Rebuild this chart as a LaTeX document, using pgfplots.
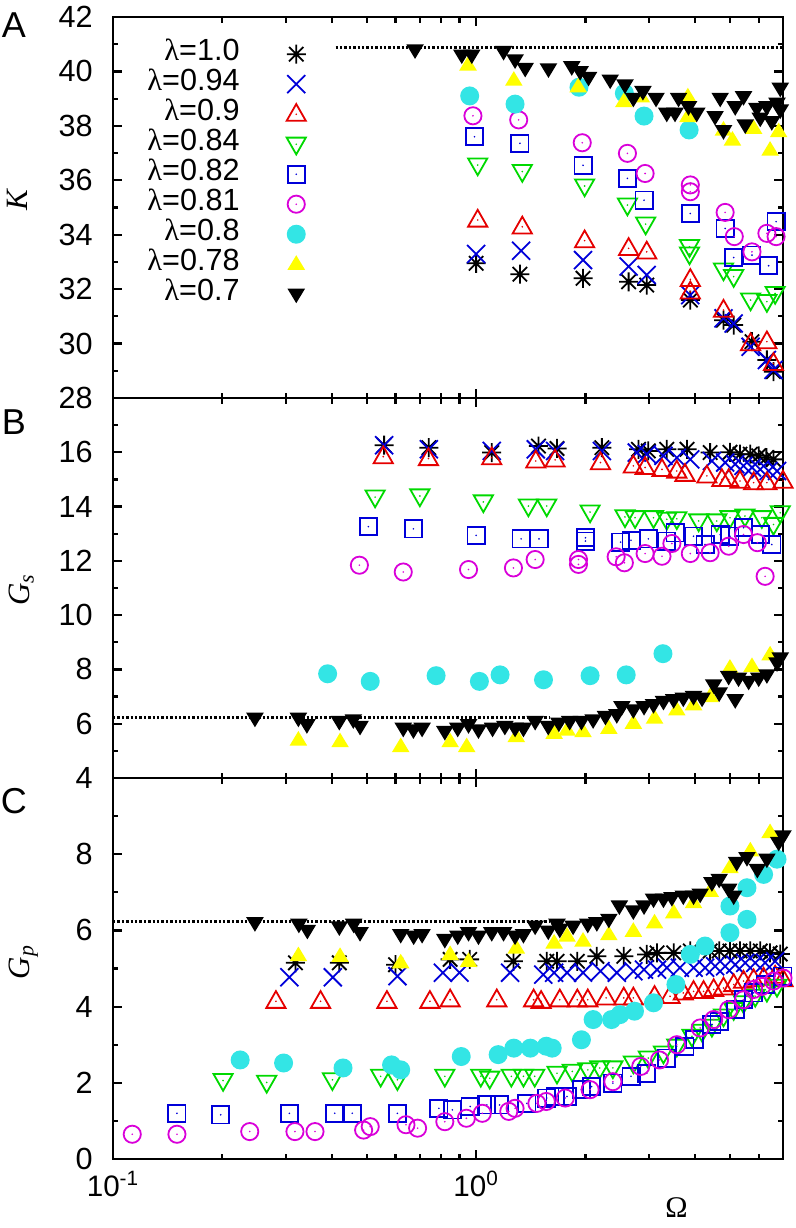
\documentclass[border=0pt]{standalone}
\usepackage{fontspec}
\setmainfont{Liberation Sans}
\newfontfamily\tnr{Liberation Serif}
\usepackage{pgfplots}
\pgfplotsset{compat=1.18}

\definecolor{cblue}{rgb}{0,0,0.85}
\definecolor{cred}{rgb}{0.9,0,0}
\definecolor{cgreen}{rgb}{0,0.85,0}
\definecolor{cmag}{rgb}{0.85,0,0.85}
\definecolor{ccyan}{rgb}{0.2,0.9,0.9}
\definecolor{cyel}{rgb}{1,1,0}

\pgfdeclareplotmark{gast}{%
 \pgfpathmoveto{\pgfqpoint{-4.75pt}{0pt}}\pgfpathlineto{\pgfqpoint{4.75pt}{0pt}}%
 \pgfpathmoveto{\pgfqpoint{0pt}{-4.75pt}}\pgfpathlineto{\pgfqpoint{0pt}{4.75pt}}%
 \pgfpathmoveto{\pgfqpoint{-3.6pt}{-3.6pt}}\pgfpathlineto{\pgfqpoint{3.6pt}{3.6pt}}%
 \pgfpathmoveto{\pgfqpoint{-3.6pt}{3.6pt}}\pgfpathlineto{\pgfqpoint{3.6pt}{-3.6pt}}%
 \pgfusepathqstroke}
\pgfdeclareplotmark{gx}{%
 \pgfpathmoveto{\pgfqpoint{-4.5pt}{-4.5pt}}\pgfpathlineto{\pgfqpoint{4.5pt}{4.5pt}}%
 \pgfpathmoveto{\pgfqpoint{-4.5pt}{4.5pt}}\pgfpathlineto{\pgfqpoint{4.5pt}{-4.5pt}}%
 \pgfusepathqstroke}
\pgfdeclareplotmark{gtri}{%
 \pgfpathmoveto{\pgfqpoint{0pt}{5.1pt}}\pgfpathlineto{\pgfqpoint{4.8pt}{-3.3pt}}%
 \pgfpathlineto{\pgfqpoint{-4.8pt}{-3.3pt}}\pgfpathclose\pgfusepathqstroke
 \pgfpathcircle{\pgfpointorigin}{0.45pt}\pgfusepathqfill}
\pgfdeclareplotmark{gitri}{%
 \pgfpathmoveto{\pgfqpoint{0pt}{-5.1pt}}\pgfpathlineto{\pgfqpoint{4.8pt}{3.3pt}}%
 \pgfpathlineto{\pgfqpoint{-4.8pt}{3.3pt}}\pgfpathclose\pgfusepathqstroke
 \pgfpathcircle{\pgfpointorigin}{0.45pt}\pgfusepathqfill}
\pgfdeclareplotmark{gsq}{%
 \pgfpathrectangle{\pgfqpoint{-4.3pt}{-4.3pt}}{\pgfqpoint{8.6pt}{8.6pt}}\pgfusepathqstroke
 \pgfpathcircle{\pgfpointorigin}{0.45pt}\pgfusepathqfill}
\pgfdeclareplotmark{gcirc}{%
 \pgfpathcircle{\pgfpointorigin}{4.3pt}\pgfusepathqstroke
 \pgfpathcircle{\pgfpointorigin}{0.45pt}\pgfusepathqfill}
\pgfdeclareplotmark{gdisc}{%
 \pgfpathcircle{\pgfpointorigin}{4.75pt}\pgfusepathqfill}
\pgfdeclareplotmark{gftri}{%
 \pgfpathmoveto{\pgfqpoint{0pt}{4.5pt}}\pgfpathlineto{\pgfqpoint{4.4pt}{-2.8pt}}%
 \pgfpathlineto{\pgfqpoint{-4.4pt}{-2.8pt}}\pgfpathclose\pgfusepathqfill}
\pgfdeclareplotmark{gfitri}{%
 \pgfpathmoveto{\pgfqpoint{0pt}{-4.5pt}}\pgfpathlineto{\pgfqpoint{4.4pt}{2.8pt}}%
 \pgfpathlineto{\pgfqpoint{-4.4pt}{2.8pt}}\pgfpathclose\pgfusepathqfill}

\pgfplotsset{
 sA/.style={only marks, black, mark=gast, mark options={line width=0.9pt}},
 sB/.style={only marks, cblue, mark=gx, mark options={line width=0.9pt}},
 sC/.style={only marks, cred, mark=gtri, mark options={line width=0.9pt}},
 sD/.style={only marks, cgreen, mark=gitri, mark options={line width=0.9pt}},
 sE/.style={only marks, cblue, mark=gsq, mark options={line width=0.9pt}},
 sF/.style={only marks, cmag, mark=gcirc, mark options={line width=0.9pt}},
 sG/.style={only marks, ccyan, mark=gdisc},
 sH/.style={only marks, cyel, mark=gftri},
 sI/.style={only marks, black, mark=gfitri},
 refl/.style={forget plot, black, line width=1.5pt, dash pattern=on 1.2pt off 1.0pt, mark=none},
 mybase/.style={
  scale only axis, width=335pt,
  xmin=0.1, xmax=7, clip=false,
  axis line style={line width=1.4pt},
  every tick/.style={black, line width=1.1pt},
  major tick length=4.5pt, minor tick length=2.75pt, tick align=inside,
  xtick={0.1,1},
  minor xtick={0.2,0.3,0.4,0.5,0.6,0.7,0.8,0.9,2,3,4,5,6,7},
  /pgf/number format/assume math mode=true,
  yticklabel style={font=\fontsize{15.3}{18}\selectfont, inner xsep=0pt, xshift=-10pt},
  xticklabel style={font=\fontsize{14.8}{17}\selectfont, inner ysep=0pt, yshift=-6pt},
  ylabel style={font=\fontsize{15.5}{18}\selectfont\tnr\itshape, anchor=center},
 },
}

\begin{document}
\begin{tikzpicture}
\path[use as bounding box] (0,0) rectangle (398pt,-614pt);

% ---------------- Panel A ----------------
\begin{axis}[xmode=log, mybase, at={(56.5pt,-8.5pt)}, anchor=north west, height=190.5pt,
 ymin=28, ymax=42, ytick={28,30,...,42}, minor ytick={29,31,...,41}, xticklabels={},
 ylabel={K}, ylabel style={at={(axis description cs:-0.143,0.52)}},
 legend plot pos=right, legend cell align=right,
 legend style={draw=none, fill=none, at={(axis description cs:0,1)}, anchor=north west,
  xshift=17pt, yshift=-10.9pt, font=\fontsize{15.3}{18}\selectfont, inner sep=0pt,
  row sep=0pt, column sep=23.5pt,
  nodes={inner sep=0pt, text height=10.5pt, text depth=4.5pt}},
]
\node[font=\fontsize{18}{20}\selectfont] at (axis description cs:-0.148,0.979) {A};
\addplot[refl] coordinates {(0.41,40.87) (7,40.87)};
\addplot[sA] coordinates {(1.0,32.95) (1.32,32.55) (1.97,32.40) (2.63,32.27) (2.95,32.15) (3.89,31.60) (4.80,30.86) (5.12,30.68) (5.75,30.07) (6.32,29.40) (6.59,28.97)};
\addlegendentry{{\tnr λ}=1.0}
\addplot[sB] coordinates {(1.0,33.29) (1.33,33.41) (1.97,33.07) (2.63,32.83) (2.95,32.52) (3.89,31.78) (4.80,30.93) (5.12,30.74) (5.70,29.88) (6.32,29.40) (6.59,29.03)};
\addlegendentry{{\tnr λ}=0.94}
\addplot[sC] coordinates {(1.01,34.54) (1.34,34.29) (1.99,33.78) (2.63,33.50) (2.95,33.37) (3.89,32.36) (3.89,31.90) (4.80,31.23) (5.70,30.00) (6.32,30.07) (6.59,29.27)};
\addlegendentry{{\tnr λ}=0.9}
\addplot[sD] coordinates {(1.01,36.56) (1.34,36.32) (1.99,35.79) (2.61,35.09) (2.93,34.39) (3.87,33.56) (3.87,33.29) (4.80,32.70) (5.12,32.46) (5.70,31.60) (6.32,31.54) (6.66,31.84)};
\addlegendentry{{\tnr λ}=0.84}
\addplot[sE] coordinates {(0.99,37.60) (1.32,37.36) (1.97,36.55) (2.61,36.07) (2.90,35.27) (3.89,34.78) (4.85,34.23) (5.12,33.16) (5.75,33.25) (6.39,32.86) (6.70,34.48)};
\addlegendentry{{\tnr λ}=0.82}
\addplot[sF] coordinates {(0.98,38.37) (1.31,38.22) (1.96,37.38) (2.61,36.99) (2.92,36.25) (3.89,35.83) (3.89,35.58) (4.85,34.82) (5.14,33.93) (5.75,33.37) (6.32,34.05) (6.70,33.93)};
\addlegendentry{{\tnr λ}=0.81}
\addplot[sG] coordinates {(0.96,39.10) (1.28,38.80) (1.92,39.42) (2.56,39.20) (2.90,38.36) (3.86,37.85)};
\addlegendentry{{\tnr λ}=0.8}
\addplot[sH] coordinates {(0.95,40.24) (1.27,39.68) (1.91,39.44) (2.55,38.89) (2.85,39.07) (3.83,39.07) (3.83,38.34) (4.80,37.85) (5.08,37.48) (5.81,37.91) (6.45,37.11) (6.81,37.79)};
\addlegendentry{{\tnr λ}=0.78}
\addplot[sI] coordinates {(0.679,40.79) (0.913,40.60) (0.973,40.60) (1.19,40.73) (1.28,40.42) (1.365,40.11) (1.582,40.09) (1.834,40.17) (1.934,39.99) (2.04,39.78) (2.34,39.68) (2.57,39.50) (2.71,39.01) (2.88,39.26) (3.13,39.01) (3.35,38.46) (3.53,38.46) (3.61,39.01) (3.845,38.70) (4.05,38.46) (4.55,38.34) (4.70,39.01) (4.80,37.82) (5.17,38.70) (5.45,39.07) (5.51,38.03) (5.93,38.64) (6.06,38.28) (6.32,38.70) (6.52,38.15) (6.74,38.83) (6.88,39.38) (6.88,38.58)};
\addlegendentry{{\tnr λ}=0.7}
\end{axis}

% ---------------- Panel B ----------------
\begin{axis}[xmode=log, mybase, at={(56.5pt,-199pt)}, anchor=north west, height=190pt,
 ymin=4, ymax=18, ytick={4,6,...,16}, minor ytick={5,7,...,17}, xticklabels={},
 ylabel={G\textsubscript{s}}, ylabel style={at={(axis description cs:-0.137,0.495)}},
]
\node[font=\fontsize{18}{20}\selectfont] at (axis description cs:-0.148,0.937) {B};
\addplot[refl] coordinates {(0.1,6.23) (1.6,6.23)};
\addplot[sA] coordinates {(0.558,16.26) (0.741,16.17) (1.104,15.99) (1.485,16.23) (1.67,16.14) (2.22,16.17) (2.80,16.11) (2.98,16.05) (3.35,16.11) (3.81,16.11) (4.41,15.99) (5.00,16.00) (5.33,15.93) (5.69,15.93) (6.00,15.87) (6.30,15.80) (6.59,15.74)};
\addplot[sB] coordinates {(0.558,16.26) (0.741,16.11) (1.104,16.05) (1.46,16.11) (1.65,16.05) (2.22,16.05) (2.77,15.99) (2.95,15.93) (3.28,15.87) (3.57,15.80) (3.89,15.74) (4.46,15.68) (4.85,15.62) (5.17,15.56) (5.45,15.50) (5.75,15.44) (6.06,15.37) (6.39,15.31) (6.74,15.31)};
\addplot[sC] coordinates {(0.555,15.84) (0.739,15.77) (1.104,15.80) (1.46,15.68) (1.65,15.72) (2.20,15.62) (2.71,15.50) (2.92,15.44) (3.25,15.37) (3.57,15.31) (3.76,15.19) (4.32,15.13) (4.75,15.00) (4.96,15.00) (5.33,14.94) (5.81,14.88) (6.32,14.88) (7.0,14.94)};
\addplot[sD] coordinates {(0.527,14.35) (0.70,14.39) (1.047,14.17) (1.393,14.02) (1.565,14.02) (2.06,13.80) (2.57,13.62) (2.74,13.59) (3.08,13.59) (3.35,13.53) (3.57,13.55) (4.10,13.47) (4.60,13.47) (5.00,13.59) (5.50,13.65) (6.12,13.59) (6.59,13.34) (6.88,13.77)};
\addplot[sE] coordinates {(0.505,13.26) (0.672,13.18) (1.0,12.94) (1.33,12.81) (1.49,12.81) (2.0,12.85) (2.0,12.73) (2.50,12.69) (2.67,12.76) (2.98,12.81) (3.35,12.73) (3.53,13.03) (3.97,12.91) (4.27,12.60) (4.70,12.97) (5.00,12.91) (5.45,13.22) (6.06,12.97) (6.52,12.60)};
\addplot[sF] coordinates {(0.477,11.84) (0.63,11.59) (0.953,11.68) (1.267,11.74) (1.454,12.05) (1.914,12.05) (1.914,11.87) (2.43,12.15) (2.56,11.93) (2.92,12.27) (3.25,12.17) (3.46,12.64) (3.89,12.27) (4.41,12.30) (4.96,12.54) (5.45,12.97) (5.95,12.67) (6.25,11.43)};
\addplot[sG] coordinates {(0.39,7.84) (0.511,7.56) (0.776,7.77) (1.021,7.56) (1.164,7.80) (1.533,7.62) (2.06,7.77) (2.59,7.80) (3.27,8.58)};
\addplot[sH] coordinates {(0.324,5.40) (0.422,5.34) (0.62,5.16) (0.848,5.34) (0.942,5.16) (1.29,5.53) (1.64,5.65) (1.78,5.77) (1.97,5.71) (2.32,5.83) (2.71,6.02) (3.10,6.21) (3.57,6.51) (3.97,6.70) (4.41,7.00) (5.00,8.05) (5.75,8.11) (6.45,8.54)};
\addplot[sI] coordinates {(0.246,6.20) (0.324,6.20) (0.342,5.96) (0.42,6.08) (0.459,6.14) (0.479,5.90) (0.63,5.83) (0.672,5.77) (0.71,5.83) (0.82,5.71) (0.89,5.83) (0.953,5.96) (1.015,5.77) (1.11,5.83) (1.20,5.90) (1.28,5.83) (1.35,5.83) (1.454,6.08) (1.58,5.90) (1.69,6.02) (1.81,6.08) (1.95,6.08) (2.10,6.14) (2.27,6.27) (2.44,6.33) (2.52,6.63) (2.71,6.51) (2.90,6.63) (3.08,6.70) (3.28,6.82) (3.50,6.88) (3.72,6.94) (3.97,7.00) (4.19,6.94) (4.51,7.43) (4.67,7.13) (4.96,7.74) (5.17,6.88) (5.28,7.68) (5.63,7.56) (6.00,7.68) (6.32,7.80) (6.74,8.24) (6.88,8.42)};
\end{axis}

% ---------------- Panel C ----------------
\begin{axis}[xmode=log, mybase, at={(56.5pt,-389pt)}, anchor=north west, height=190.5pt,
 ymin=0, ymax=10, ytick={0,2,...,8}, minor ytick={1,3,...,9},
 xticklabels={10\textsuperscript{-1},10\textsuperscript{0}},
 ylabel={G\textsubscript{p}}, ylabel style={at={(axis description cs:-0.134,0.517)}},
 xlabel={Ω}, xlabel style={at={(axis description cs:0.841,0)}, anchor=center, yshift=-24.5pt, font=\fontsize{15}{17}\selectfont\tnr},
]
\node[font=\fontsize{18}{20}\selectfont] at (axis description cs:-0.148,0.94) {C};
\addplot[refl] coordinates {(0.1,6.23) (1.6,6.23)};
\addplot[sA] coordinates {(0.318,5.15) (0.42,5.15) (0.60,5.10) (0.848,5.24) (0.96,5.24) (1.267,5.19) (1.565,5.19) (1.67,5.19) (1.90,5.19) (2.15,5.32) (2.55,5.32) (2.95,5.37) (3.15,5.41) (3.50,5.41) (3.89,5.46) (4.41,5.46) (4.67,5.46) (5.00,5.46) (5.33,5.46) (5.69,5.46) (6.06,5.46) (6.45,5.41) (6.88,5.38)};
\addplot[sB] coordinates {(0.306,4.77) (0.403,4.77) (0.607,4.80) (0.81,4.89) (0.90,4.89) (1.24,4.89) (1.53,4.84) (1.64,4.89) (1.78,4.89) (1.97,4.89) (2.20,4.93) (2.44,4.89) (2.71,4.93) (2.90,4.97) (3.15,4.97) (3.35,5.02) (3.64,5.02) (3.97,5.02) (4.27,5.02) (4.55,5.06) (4.85,5.06) (5.17,5.10) (5.51,5.15) (5.87,5.15) (6.25,5.15) (6.66,5.19)};
\addplot[sC] coordinates {(0.281,4.14) (0.373,4.14) (0.568,4.14) (0.746,4.14) (0.848,4.18) (1.14,4.18) (1.44,4.18) (1.51,4.14) (1.70,4.18) (1.90,4.18) (2.03,4.18) (2.28,4.23) (2.55,4.23) (2.71,4.23) (3.10,4.27) (3.42,4.27) (3.72,4.36) (3.97,4.40) (4.23,4.40) (4.51,4.45) (4.80,4.49) (5.12,4.58) (5.45,4.67) (5.81,4.71) (6.19,4.75) (6.66,4.80) (7.0,4.71)};
\addplot[sD] coordinates {(0.201,2.06) (0.265,2.01) (0.402,2.08) (0.546,2.17) (0.607,2.08) (0.82,2.17) (1.03,2.17) (1.09,2.12) (1.25,2.17) (1.35,2.17) (1.45,2.17) (1.67,2.25) (1.84,2.30) (2.03,2.34) (2.19,2.39) (2.38,2.39) (2.71,2.52) (2.98,2.65) (3.28,2.78) (3.57,2.96) (3.93,3.22) (4.19,3.35) (4.46,3.48) (4.80,3.75) (5.12,3.92) (5.45,4.10) (5.87,4.27) (6.32,4.40) (6.74,4.53)};
\addplot[sE] coordinates {(0.15,1.20) (0.198,1.16) (0.306,1.20) (0.408,1.20) (0.456,1.20) (0.607,1.20) (0.79,1.33) (0.86,1.29) (0.963,1.38) (1.07,1.42) (1.16,1.42) (1.38,1.46) (1.565,1.60) (1.65,1.64) (1.78,1.64) (1.95,1.82) (2.08,1.90) (2.38,1.99) (2.67,2.17) (2.95,2.25) (3.35,2.65) (3.76,2.96) (4.0,3.13) (4.46,3.53) (4.67,3.61) (5.17,3.92) (5.45,4.18) (5.81,4.36) (6.25,4.58) (7.0,4.80)};
\addplot[sF] coordinates {(0.113,0.65) (0.15,0.65) (0.238,0.72) (0.317,0.72) (0.36,0.72) (0.49,0.76) (0.511,0.85) (0.641,0.90) (0.69,0.81) (0.82,0.98) (0.94,1.07) (1.04,1.20) (1.23,1.25) (1.28,1.33) (1.47,1.46) (1.56,1.51) (1.76,1.60) (2.06,1.82) (2.38,2.03) (2.84,2.43) (3.20,2.60) (3.57,3.00) (4.14,3.44) (4.51,3.66) (4.96,3.92) (5.45,4.18) (5.81,4.45) (6.12,4.53) (6.59,4.67) (7.0,4.75)};
\addplot[sG] coordinates {(0.224,2.60) (0.295,2.52) (0.43,2.39) (0.585,2.47) (0.62,2.34) (0.91,2.69) (1.15,2.74) (1.27,2.91) (1.41,2.91) (1.56,2.96) (1.62,2.91) (1.95,3.13) (2.10,3.66) (2.36,3.66) (2.49,3.79) (2.73,3.88) (3.08,4.10) (3.55,4.58) (3.89,5.37) (4.27,5.59) (5.00,5.94) (5.57,6.29) (5.00,6.64) (5.57,7.12) (6.19,7.47) (6.74,7.87)};
\addplot[sH] coordinates {(0.324,5.34) (0.422,5.32) (0.62,5.15) (0.848,5.37) (0.953,5.19) (1.29,5.54) (1.64,5.67) (1.78,5.85) (1.97,5.72) (2.32,5.89) (2.71,5.98) (3.10,6.20) (3.50,6.46) (3.97,6.73) (4.41,7.03) (5.00,7.65) (5.69,8.09) (6.45,8.57)};
\addplot[sI] coordinates {(0.246,6.20) (0.325,6.16) (0.343,6.00) (0.42,6.09) (0.46,6.16) (0.479,5.94) (0.62,5.89) (0.673,5.85) (0.71,5.89) (0.82,5.76) (0.89,5.85) (0.953,5.94) (1.015,5.85) (1.104,5.94) (1.19,5.94) (1.28,5.85) (1.35,5.89) (1.454,6.11) (1.58,5.98) (1.67,6.16) (1.70,6.03) (1.85,6.11) (2.03,6.16) (2.15,6.20) (2.32,6.29) (2.48,6.64) (2.71,6.51) (2.90,6.64) (3.08,6.82) (3.28,6.82) (3.46,6.86) (3.72,6.90) (3.97,6.90) (4.14,6.95) (4.46,7.25) (4.67,7.34) (4.96,7.08) (5.12,6.90) (5.22,7.78) (5.57,7.91) (5.95,7.60) (6.32,7.87) (6.81,8.31) (7.0,8.48)};
\end{axis}
\end{tikzpicture}
\end{document}
